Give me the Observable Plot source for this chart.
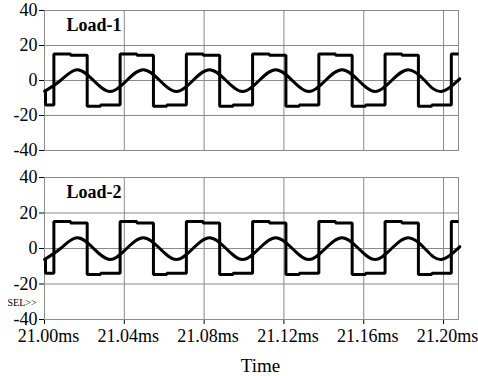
<!DOCTYPE html>
<html><head><meta charset="utf-8">
<script src="https://cdn.jsdelivr.net/npm/d3@7"></script>
<script src="https://cdn.jsdelivr.net/npm/@observablehq/plot@0.6"></script>
<style>
body{margin:0;background:#fff;}
#chart{position:relative;width:478px;height:376px;}
#chart svg{display:block;}
#chart svg text{font-family:"Liberation Serif","DejaVu Serif",serif;}
</style>
</head><body><div id="chart"></div>
<script>
// Panels
const panels = ["Load-1", "Load-2"];
// Axis ticks
const xTicks = [21.00, 21.04, 21.08, 21.12, 21.16, 21.20];
const yTicks = [-40, -20, 0, 20, 40];
const xTickLabels = ["21.00ms", "21.04ms", "21.08ms", "21.12ms", "21.16ms", "21.20ms"];
const yTickLabels = ["-40", "-20", "0", "20", "40"];
const xDomain = [21.0, 21.2075];
const yDomain = [-40, 40];
// Square-wave trace (transition times in ms, levels)
const sqTime = [21.0000, 21.0005,
  21.0047, 21.0131, 21.0214, 21.0281,
  21.0379, 21.0463, 21.0546, 21.0613,
  21.0711, 21.0795, 21.0878, 21.0945,
  21.1043, 21.1127, 21.1210, 21.1277,
  21.1375, 21.1459, 21.1542, 21.1609,
  21.1707, 21.1791, 21.1874, 21.1941,
  21.2039, 21.2075];
const sqLoad1 = [-6, -14,
  15.2, 14.4, -14.7, -14.0,
  15.2, 14.4, -14.7, -14.0,
  15.2, 14.4, -14.7, -14.0,
  15.2, 14.4, -14.7, -14.0,
  15.2, 14.4, -14.7, -14.0,
  15.2, 14.4, -14.7, -14.0,
  15.2, 15.2];
const sqLoad2 = [-6, -14,
  15.2, 14.4, -14.7, -14.0,
  15.2, 14.4, -14.7, -14.0,
  15.2, 14.4, -14.7, -14.0,
  15.2, 14.4, -14.7, -14.0,
  15.2, 14.4, -14.7, -14.0,
  15.2, 14.4, -14.7, -14.0,
  15.2, 15.2];
// Sinusoidal trace (key points: troughs, crossings, peaks)
const sinTime = [21.0000, 21.0080, 21.0163, 21.0246, 21.0329, 21.0412, 21.0495, 21.0578,
  21.0661, 21.0744, 21.0827, 21.0910, 21.0993, 21.1076, 21.1159, 21.1242, 21.1325,
  21.1408, 21.1491, 21.1574, 21.1657, 21.1740, 21.1823, 21.1906, 21.1989, 21.2072, 21.2075];
const sinLoad1 = [-6.2, 0, 6.2, 0, -6.3, 0, 6.2, 0, -6.3, 0, 6.2, 0, -6.3, 0, 6.2, 0, -6.3,
  0, 6.2, 0, -6.3, 0, 6.2, 0, -6.3, 0, 0.2];
const sinLoad2 = [-6.2, 0, 6.0, 0, -6.2, 0, 6.0, 0, -6.2, 0, 6.0, 0, -6.2, 0, 6.0, 0, -6.2,
  0, 6.0, 0, -6.2, 0, 6.0, 0, -6.2, 0, 0.2];

const sqVals = [sqLoad1, sqLoad2];
const sinVals = [sinLoad1, sinLoad2];
const serif = "Liberation Serif";
const gridColor = "#8a8a8a";

function panel(i) {
  const sq = sqTime.map((t, k) => ({t, v: sqVals[i][k]}));
  const sn = sinTime.map((t, k) => ({t, v: sinVals[i][k]}));
  const yl = yTicks.map((v, k) => ({v, label: yTickLabels[k]}));
  const xl = xTicks.map((v, k) => ({v, label: xTickLabels[k]}));
  const last = i === 1;
  const marks = [
    Plot.ruleX(xTicks, {stroke: gridColor, strokeWidth: 1}),
    Plot.ruleY(yTicks, {stroke: gridColor, strokeWidth: 1}),
    Plot.frame({stroke: gridColor, strokeWidth: 1}),
    Plot.line(sn, {x: "t", y: "v", curve: "natural", stroke: "#000", strokeWidth: 3}),
    Plot.line(sq, {x: "t", y: "v", curve: "step-after", stroke: "#000", strokeWidth: 3, strokeLinejoin: "miter", strokeLinecap: "butt"}),
    Plot.text([panels[i]], {frameAnchor: "top-left", dx: 22, dy: 8, lineAnchor: "top", textAnchor: "start",
      fontWeight: "bold", fontSize: 18, fontFamily: serif, fill: "#000"}),
    Plot.text(yl, {y: "v", text: "label", frameAnchor: "left", dx: -7, textAnchor: "end", lineAnchor: "middle",
      fontSize: 18, fontFamily: serif, fill: "#000"})
  ];
  if (last) {
    marks.push(Plot.text(xl, {x: "v", text: "label", frameAnchor: "bottom", dy: 17, dx: 4, lineAnchor: "middle",
      fontSize: 18, fontFamily: serif, fill: "#000"}));
    marks.push(Plot.text(["SEL>>"], {frameAnchor: "bottom-left", dx: -37, dy: -17, textAnchor: "start",
      lineAnchor: "middle", fontSize: 10, fontFamily: serif, fill: "#000"}));
    marks.push(Plot.text(["Time"], {frameAnchor: "bottom", dx: 9, dy: 46, lineAnchor: "middle",
      fontSize: 19, fontFamily: serif, fill: "#000"}));
  }
  return Plot.plot({
    width: 478,
    height: last ? 216 : 160,
    marginTop: last ? 17 : 10,
    marginBottom: last ? 57 : 10,
    marginLeft: 44,
    marginRight: 20,
    style: {background: "#fff", display: "block", overflow: "visible"},
    x: {domain: xDomain, ticks: xTicks, tickFormat: () => "", tickSize: 5, tickPadding: 0,
        label: null, axis: last ? "bottom" : null},
    y: {domain: yDomain, ticks: yTicks, tickFormat: () => "", tickSize: 5, tickPadding: 0, label: null},
    marks
  });
}

const root = document.getElementById("chart");
root.appendChild(panel(0));
root.appendChild(panel(1));
</script>
</body></html>
